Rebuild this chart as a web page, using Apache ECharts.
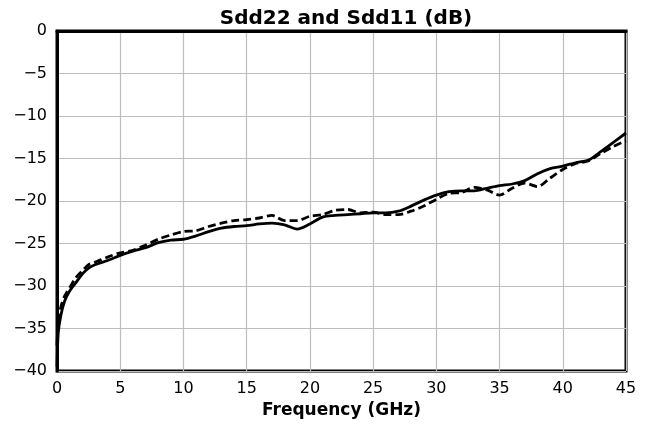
<!DOCTYPE html>
<html>
<head>
<meta charset="utf-8">
<script src="https://cdn.jsdelivr.net/npm/echarts@6/dist/echarts.min.js"></script>
<style>
  html, body { margin: 0; padding: 0; background: #fff; }
  #chart { width: 650px; height: 424px; }
</style>
</head>
<body>
<div id="chart"></div>
<script>
// frequency points (GHz)
var freq = [0, 0.1, 0.3, 0.6, 1, 1.5, 2, 2.5, 3, 4, 5, 6, 7, 8, 9, 10, 11, 12, 13, 14, 15,
  16, 17, 18, 19, 20, 21, 22, 23, 24, 25, 26, 27, 28, 29, 30, 31, 32, 33, 34, 35,
  36, 37, 38, 39, 40, 41, 42, 43, 44, 45];

// solid trace
var sdd22 = [-39.5, -35.5, -33.5, -31.8, -30.6, -29.6, -28.6, -27.9, -27.5, -27, -26.4,
  -25.9, -25.5, -24.9, -24.6, -24.5, -24.1, -23.6, -23.2, -23, -22.9,
  -22.7, -22.6, -22.8, -23.3, -22.7, -21.9, -21.7, -21.6, -21.5, -21.4,
  -21.4, -21.2, -20.6, -19.9, -19.3, -18.9, -18.8, -18.8, -18.5, -18.2,
  -18, -17.6, -16.8, -16.2, -15.9, -15.5, -15.2, -14.2, -13.1, -12];

// dashed trace
var sdd11 = [-37, -34, -32.5, -31.2, -30.2, -29, -28.2, -27.5, -27.2, -26.6, -26.1,
  -25.8, -25.2, -24.5, -24, -23.6, -23.5, -23, -22.6, -22.3, -22.2,
  -22, -21.7, -22.3, -22.3, -21.8, -21.6, -21.1, -21, -21.4, -21.3,
  -21.6, -21.6, -21.2, -20.6, -19.8, -19.1, -19, -18.4, -18.7, -19.3,
  -18.5, -17.9, -18.3, -17.3, -16.3, -15.6, -15.3, -14.4, -13.6, -12.9];

function pairs(xs, ys) {
  return xs.map(function (x, i) { return [x, ys[i]]; });
}

var myChart = echarts.init(document.getElementById('chart'));
var font = 'DejaVu Sans';

var option = {
  animation: false,
  title: {
    text: 'Sdd22 and Sdd11 (dB)',
    left: 341,
    textAlign: 'center',
    top: 4,
    textStyle: { fontFamily: font, fontSize: 20, fontWeight: 'bold', color: '#000' }
  },
  grid: {
    left: 57, right: 24, top: 31, bottom: 53,
    show: true,
    borderColor: '#000',
    borderWidth: 3
  },
  xAxis: {
    type: 'value',
    min: 0, max: 45, interval: 5,
    name: 'Frequency (GHz)',
    nameLocation: 'middle',
    nameGap: 31,
    nameTextStyle: { fontFamily: font, fontSize: 17, fontWeight: 'bold', color: '#000' },
    axisLine: { show: true, lineStyle: { color: '#000', width: 3 } },
    axisTick: { show: false },
    axisLabel: { fontFamily: font, fontSize: 16, color: '#000', margin: 10 },
    splitLine: { show: true, lineStyle: { color: '#bdbdbd', width: 1.2 } }
  },
  yAxis: {
    type: 'value',
    min: -40, max: 0, interval: 5,
    axisLine: { show: true, lineStyle: { color: '#000', width: 3 } },
    axisTick: { show: false },
    axisLabel: {
      fontFamily: font, fontSize: 16, color: '#000', margin: 10,
      formatter: function (v) { return String(v).replace('-', '\u2212'); }
    },
    splitLine: { show: true, lineStyle: { color: '#bdbdbd', width: 1.2 } }
  },
  series: [{
    name: 'Sdd22',
    type: 'line',
    data: pairs(freq, sdd22),
    showSymbol: false,
    smooth: 0.3,
    lineStyle: { color: '#000', width: 2.8 },
    z: 3
  }, {
    name: 'Sdd11',
    type: 'line',
    data: pairs(freq, sdd11),
    showSymbol: false,
    smooth: 0.3,
    lineStyle: { color: '#000', width: 2.8, type: [8, 4] },
    z: 4
  }]
};

option && myChart.setOption(option);
</script>
</body>
</html>
